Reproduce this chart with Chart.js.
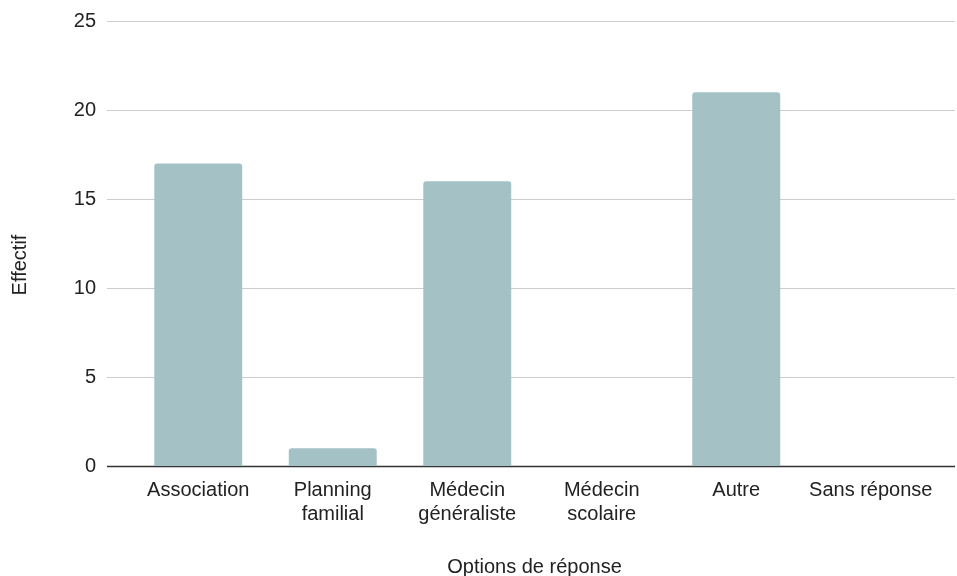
<!DOCTYPE html>
<html>
<head>
<meta charset="utf-8">
<script src="https://cdn.jsdelivr.net/npm/chart.js@4/dist/chart.umd.min.js"></script>
<style>
  html, body { margin: 0; padding: 0; background: #fff; }
  #wrap { width: 957px; height: 576px; }
</style>
</head>
<body>
<div id="wrap"><canvas id="chart"></canvas></div>
<script>
// données du graphique
const categories = ['Association', ['Planning', 'familial'], ['Médecin', 'généraliste'], ['Médecin', 'scolaire'], 'Autre', 'Sans réponse'];
const effectifs = [17, 1, 16, 0, 21, 0];
const yTicks = [0, 5, 10, 15, 20, 25];
const yTitle = 'Effectif';

const FONT = '"Liberation Sans", Arial, sans-serif';
const TEXT = '#222';

// grilles horizontales plus larges que la zone des barres
const gridPlugin = {
  id: 'wideGrid',
  beforeDatasetsDraw(chart) {
    const { ctx, chartArea, scales } = chart;
    const x0 = chartArea.left - 24;
    const x1 = chartArea.right + 17;
    ctx.save();
    yTicks.forEach((v) => {
      const y = Math.round(scales.y.getPixelForValue(v)) + 0.5;
      ctx.strokeStyle = v === 0 ? '#333' : '#ccc';
      ctx.lineWidth = v === 0 ? 1.5 : 1.2;
      ctx.beginPath();
      ctx.moveTo(x0, y);
      ctx.lineTo(x1, y);
      ctx.stroke();
    });
    ctx.restore();
  },
  // titre vertical, un peu plus bas que le centre de la zone
  afterDraw(chart) {
    const { ctx } = chart;
    ctx.save();
    ctx.translate(20, 265);
    ctx.rotate(-Math.PI / 2);
    ctx.font = '20px ' + FONT;
    ctx.fillStyle = TEXT;
    ctx.textAlign = 'center';
    ctx.textBaseline = 'middle';
    ctx.fillText(yTitle, 0, 0);
    ctx.restore();
  },
};

new Chart(document.getElementById('chart').getContext('2d'), {
  type: 'bar',
  data: {
    labels: categories,
    datasets: [{
      label: 'Effectif',
      data: effectifs,
      backgroundColor: '#a4c2c6',
      borderRadius: { topLeft: 3, topRight: 3 },
      borderSkipped: 'start',
      categoryPercentage: 1,
      barPercentage: 0.654,
    }],
  },
  options: {
    responsive: true,
    maintainAspectRatio: false,
    animation: false,
    layout: { padding: { top: 21, right: 19, left: 0, bottom: 0 } },
    plugins: {
      legend: { display: false },
      tooltip: { enabled: false },
    },
    scales: {
      x: {
        grid: { display: false, drawTicks: false },
        border: { display: false },
        ticks: {
          color: TEXT,
          font: { family: FONT, size: 20 },
          padding: 12,
          maxRotation: 0,
          autoSkip: false,
        },
        title: {
          display: true,
          text: 'Options de réponse',
          color: TEXT,
          font: { family: FONT, size: 20 },
          padding: { top: 0, bottom: -3 },
        },
        afterFit(scale) {
          scale.height = 110;
          scale.paddingLeft = 0;
          scale.paddingRight = 0;
        },
      },
      y: {
        min: 0,
        max: 25,
        grid: { display: false, drawTicks: false },
        border: { display: false },
        ticks: {
          stepSize: 5,
          color: TEXT,
          font: { family: FONT, size: 20 },
          padding: 35,
        },
        afterFit(scale) {
          scale.width = 131;
          scale.paddingTop = 0;
          scale.paddingBottom = 0;
        },
      },
    },
  },
  plugins: [gridPlugin],
});
</script>
</body>
</html>
